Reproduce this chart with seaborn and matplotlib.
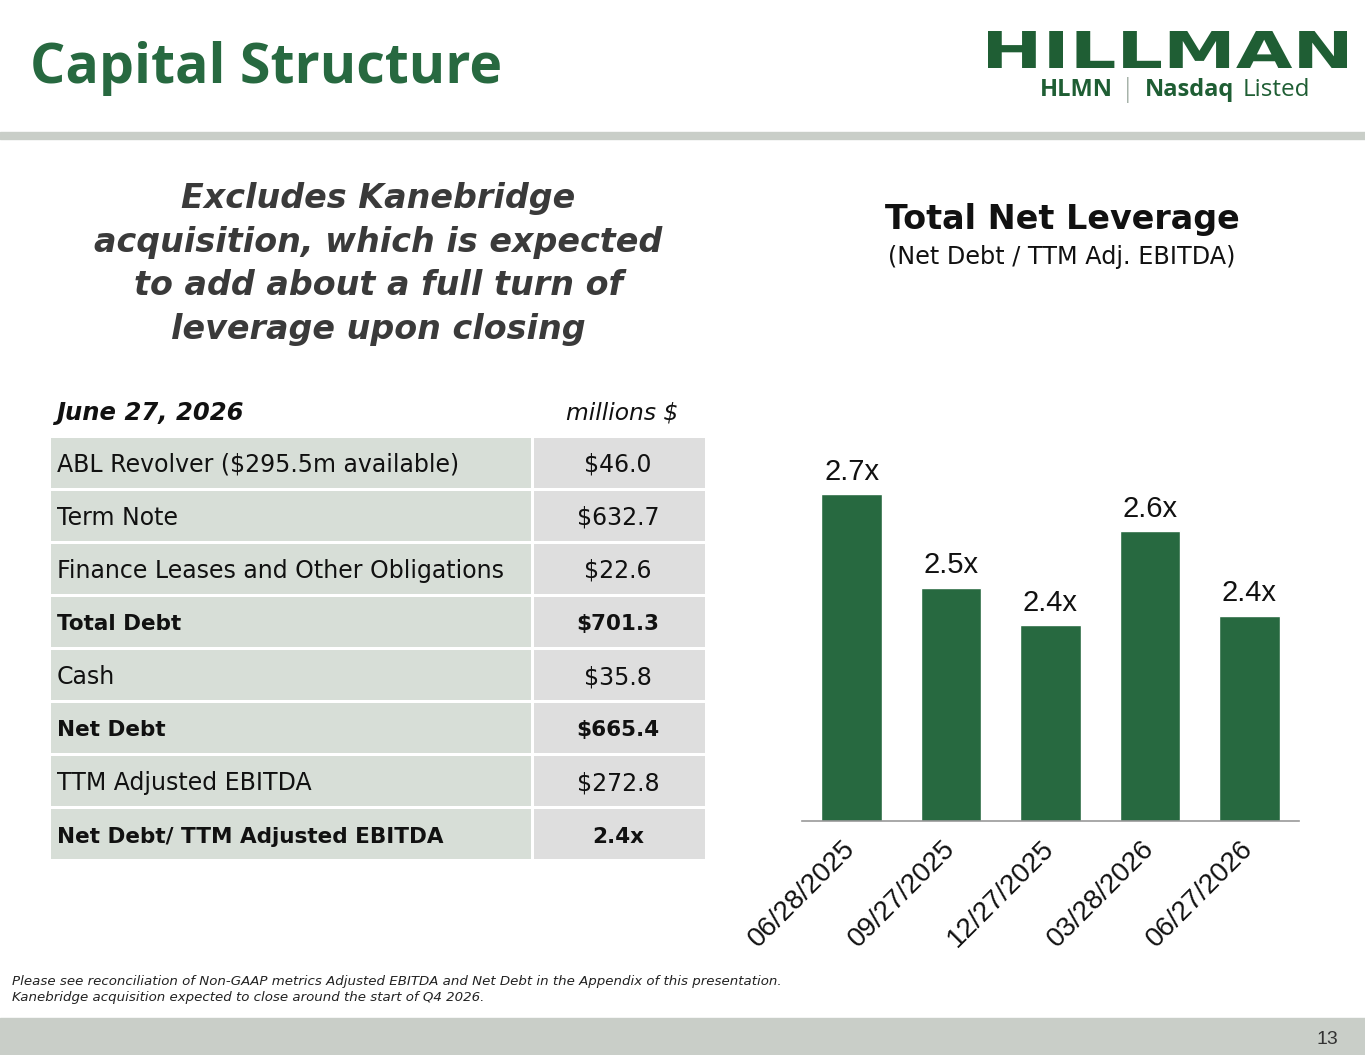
import matplotlib
matplotlib.use("Agg")
import matplotlib.pyplot as plt
import seaborn as sns
import pandas as pd
from matplotlib.patches import Rectangle, PathPatch
from matplotlib.textpath import TextPath
from matplotlib.font_manager import FontProperties
from matplotlib.transforms import Affine2D

# data
dates = ["06/28/2025", "09/27/2025", "12/27/2025", "03/28/2026", "06/27/2026"]
leverage = [2.70, 2.50, 2.42, 2.62, 2.44]

table_labels = ["ABL Revolver ($295.5m available)", "Term Note",
                "Finance Leases and Other Obligations", "Total Debt", "Cash",
                "Net Debt", "TTM Adjusted EBITDA", "Net Debt/ TTM Adjusted EBITDA"]
table_values = ["$46.0", "$632.7", "$22.6", "$701.3", "$35.8", "$665.4", "$272.8", "2.4x"]
bold_rows = [False, False, False, True, False, True, False, True]

W, H = 1365, 1055
GREEN = "#276940"
BAND = "#C9CEC8"
DV = ["DejaVu Sans"]

sns.set_theme(style="white")
plt.rcParams["font.family"] = ["Open Sans", "DejaVu Sans"]

fig = plt.figure(figsize=(W / 100, H / 100), dpi=100)


def fx(x):
    return x / W


def fy(y):
    return 1 - y / H


# header
fig.text(fx(30), fy(68), "Capital Structure", color=GREEN, fontsize=40,
         fontweight="bold", va="center", ha="left")
fig.patches.append(Rectangle((0, fy(139)), 1, 7 / H, transform=fig.transFigure,
                             color=BAND, zorder=0))

# logo text stretched into its box
tp = TextPath((0, 0), "HILLMAN", size=100,
              prop=FontProperties(family="DejaVu Sans", weight="bold"))
ext = tp.get_extents()
x0, x1, y0, y1 = 988, 1347, 31, 68
tr = (Affine2D().translate(-ext.x0, -ext.y0)
      .scale((x1 - x0) / ext.width, (y1 - y0) / ext.height)
      .translate(x0, H - y1).scale(1 / W, 1 / H))
fig.patches.append(PathPatch(tr.transform_path(tp), transform=fig.transFigure,
                             color="#1F5E34", lw=0))
fig.text(fx(1040), fy(90), "HLMN", color="#1F5E34", fontsize=17,
         fontweight="bold", va="center", ha="left")
fig.text(fx(1128), fy(90), "|", color="#8A9A8E", fontsize=18,
         va="center", ha="center", fontweight="light")
fig.text(fx(1145), fy(90), "Nasdaq", color="#1F5E34", fontsize=17,
         fontweight="bold", va="center", ha="left")
fig.text(fx(1243), fy(90), "Listed", color="#1F5E34", fontsize=17.5,
         va="center", ha="left")

# statement
fig.text(fx(378), fy(264),
         "Excludes Kanebridge\nacquisition, which is expected\nto add about a full turn of\nleverage upon closing",
         color="#3A3A3A", fontsize=24, fontweight="bold", fontstyle="italic",
         ha="center", va="center", linespacing=1.4, family=DV)

# table
ax_t = fig.add_axes([fx(51), fy(861), fx(705 - 51), (861 - 436) / H])
ax_t.set_xlim(0, 654)
ax_t.set_ylim(len(table_labels), 0)
ax_t.axis("off")
split = 480
for i, (lab, val, b) in enumerate(zip(table_labels, table_values, bold_rows)):
    ax_t.add_patch(Rectangle((0, i + 0.03), split, 0.94, color="#D7DED7", lw=0))
    ax_t.add_patch(Rectangle((split + 3, i + 0.03), 654 - split - 3, 0.94,
                             color="#DEDEDE", lw=0))
    w = "bold" if b else "normal"
    fs = 15.5 if b else 17
    ax_t.text(6, i + 0.54, lab, fontsize=fs, fontweight=w, va="center",
              ha="left", color="#111111", family=DV)
    ax_t.text((split + 654) / 2, i + 0.54, val, fontsize=fs, fontweight=w,
              va="center", ha="center", color="#111111", family=DV)
fig.text(fx(56), fy(413), "June 27, 2026", fontsize=17.5, fontweight="bold",
         fontstyle="italic", va="center", ha="left", color="#111111",
         family=DV)
fig.text(fx(678), fy(413), "millions $", fontsize=16.8, fontstyle="italic",
         va="center", ha="right", color="#111111", family=DV)

# chart titles
fig.text(fx(1062), fy(220), "Total Net Leverage", fontsize=24,
         fontweight="bold", ha="center", va="center", color="#111111",
         family=DV)
fig.text(fx(1062), fy(257), "(Net Debt / TTM Adj. EBITDA)", fontsize=17.2,
         ha="center", va="center", color="#111111", family=DV)

# bar chart
ax = fig.add_axes([fx(802), fy(821), fx(1299 - 802), (821 - 438) / H])
df = pd.DataFrame({"date": dates, "lev": leverage})
sns.barplot(data=df, x="date", y="lev", color=GREEN, saturation=1,
            width=0.61, ax=ax)
ax.set_ylim(2.0, 2.0 + 383 / 467)
ax.set_xlim(-0.5, len(dates) - 0.5)
for c in ax.containers:
    ax.bar_label(c, labels=[f"{v:.1f}x" for v in leverage], padding=6,
                 fontsize=21, family=["Liberation Sans", "DejaVu Sans"],
                 color="#111111")
ax.set_xlabel("")
ax.set_ylabel("")
ax.set_yticks([])
for s in ["top", "right", "left"]:
    ax.spines[s].set_visible(False)
ax.spines["bottom"].set_color("#999999")
ax.spines["bottom"].set_linewidth(1.2)
ax.tick_params(axis="x", length=0, pad=17)
plt.setp(ax.get_xticklabels(), rotation=45, ha="right", va="center",
         rotation_mode="anchor", fontsize=20,
         family=["Liberation Sans", "DejaVu Sans"], color="#111111")

# footer
fig.text(fx(12), fy(981),
         "Please see reconciliation of Non-GAAP metrics Adjusted EBITDA and Net Debt in the Appendix of this presentation.",
         fontsize=9.6, fontstyle="italic", va="center", ha="left",
         color="#222222", family=DV)
fig.text(fx(12), fy(998),
         "Kanebridge acquisition expected to close around the start of Q4 2026.",
         fontsize=9.6, fontstyle="italic", va="center", ha="left",
         color="#222222", family=DV)
fig.patches.append(Rectangle((0, 0), 1, 37 / H, transform=fig.transFigure,
                             color=BAND, zorder=0))
fig.text(fx(1327), fy(1039), "13", fontsize=14, ha="center", va="center",
         color="#333333", family=["Liberation Sans", "DejaVu Sans"])

fig.savefig("out.png", dpi=100, facecolor="white")
